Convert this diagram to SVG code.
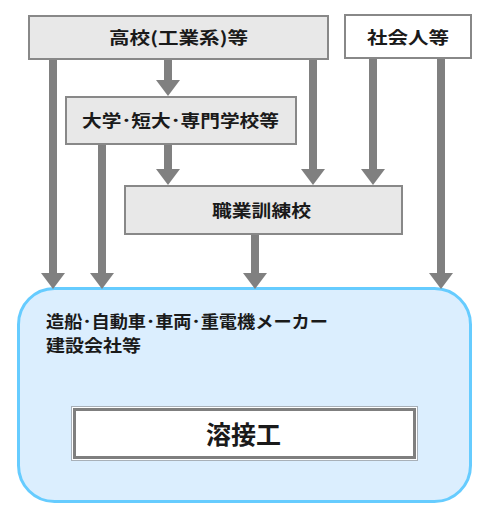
<svg xmlns="http://www.w3.org/2000/svg" width="487" height="511" viewBox="0 0 487 511">
<style>
.box{fill:#e8e8e8;stroke:#888888;stroke-width:2}
.wbox{fill:#ffffff;stroke:#888888;stroke-width:2}
.t{font-family:"Noto Sans CJK JP","Noto Sans CJK SC",sans-serif;font-weight:bold;fill:#1a1a1a;font-size:17px}
.ln{stroke:#808080;stroke-width:8;fill:none}
.hd{fill:#808080}
</style>
<rect width="487" height="511" fill="#ffffff"/>
<g id="company">
<rect x="18.5" y="288.5" width="452" height="213" rx="36" fill="#dbeefe" stroke="#66ccff" stroke-width="3"/>
<text class="t" x="46" y="328" textLength="282" lengthAdjust="spacingAndGlyphs">造船･自動車･車両･重電機メーカー</text>
<text class="t" x="46" y="352" textLength="95" lengthAdjust="spacingAndGlyphs">建設会社等</text>
</g>
<g id="welder">
<rect x="71.5" y="406.5" width="346" height="54" fill="#ffffff" stroke="#a8b0b8" stroke-width="1"/>
<rect x="74.5" y="409.5" width="340" height="48" fill="#ffffff" stroke="#7f7f7f" stroke-width="3"/>
<text class="t" x="206" y="444" style="font-size:25px" textLength="75" lengthAdjust="spacingAndGlyphs">溶接工</text>
</g>
<g id="connectors">
<line class="ln" x1="53" y1="60" x2="53" y2="274"/>
<polygon class="hd" points="41,273 65,273 53,289"/>
<line class="ln" x1="168" y1="60" x2="168" y2="81"/>
<polygon class="hd" points="156,80 180,80 168,96"/>
<line class="ln" x1="313" y1="60" x2="313" y2="170"/>
<polygon class="hd" points="301,169 325,169 313,185"/>
<line class="ln" x1="373" y1="59" x2="373" y2="170"/>
<polygon class="hd" points="361,169 385,169 373,185"/>
<line class="ln" x1="441" y1="59" x2="441" y2="274"/>
<polygon class="hd" points="429,273 453,273 441,289"/>
<line class="ln" x1="102" y1="144" x2="102" y2="274"/>
<polygon class="hd" points="90,273 114,273 102,289"/>
<line class="ln" x1="168" y1="144" x2="168" y2="170"/>
<polygon class="hd" points="156,169 180,169 168,185"/>
<line class="ln" x1="255" y1="234" x2="255" y2="274"/>
<polygon class="hd" points="243,273 267,273 255,289"/>
</g>
<g id="highschool">
<rect class="box" x="29" y="16" width="299" height="43"/>
<text class="t" x="109" y="44" textLength="139" lengthAdjust="spacingAndGlyphs">高校(工業系)等</text>
</g>
<g id="working">
<rect class="wbox" x="345" y="15" width="126" height="43"/>
<text class="t" x="367" y="44" textLength="82" lengthAdjust="spacingAndGlyphs">社会人等</text>
</g>
<g id="university">
<rect class="box" x="66" y="97" width="230" height="47"/>
<text class="t" x="82" y="127" textLength="197" lengthAdjust="spacingAndGlyphs">大学･短大･専門学校等</text>
</g>
<g id="vocational">
<rect class="box" x="125" y="186" width="277" height="48"/>
<text class="t" x="212" y="217" textLength="99" lengthAdjust="spacingAndGlyphs">職業訓練校</text>
</g>
</svg>
